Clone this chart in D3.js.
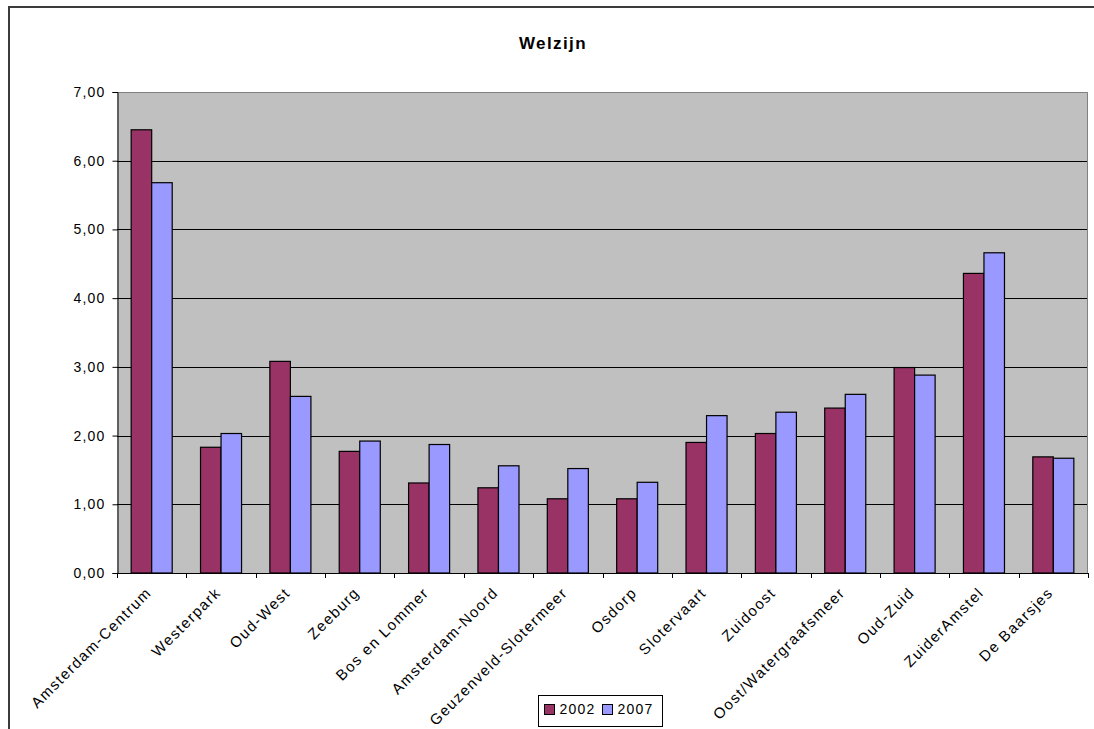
<!DOCTYPE html>
<html>
<head>
<meta charset="utf-8">
<script src="https://cdn.jsdelivr.net/npm/d3@7"></script>
<style>
  html, body { margin: 0; padding: 0; background: #fff; }
  svg { display: block; }
  text { font-family: "Liberation Sans", Arial, sans-serif; fill: #000; }
</style>
</head>
<body>
<svg id="chart" width="1094" height="729"></svg>
<script>
const title = "Welzijn";
const categories = ["Amsterdam-Centrum", "Westerpark", "Oud-West", "Zeeburg", "Bos en Lommer",
  "Amsterdam-Noord", "Geuzenveld-Slotermeer", "Osdorp", "Slotervaart", "Zuidoost",
  "Oost/Watergraafsmeer", "Oud-Zuid", "ZuiderAmstel", "De Baarsjes"];
const seriesNames = ["2002", "2007"];
const values2002 = [6.45, 1.83, 3.08, 1.77, 1.31, 1.24, 1.08, 1.08, 1.90, 2.03, 2.40, 2.99, 4.36, 1.69];
const values2007 = [5.68, 2.03, 2.57, 1.92, 1.87, 1.56, 1.52, 1.32, 2.29, 2.34, 2.60, 2.88, 4.66, 1.67];
const yTicks = [0, 1, 2, 3, 4, 5, 6, 7];
const colors = ["#993366", "#9999FF"];

const svg = d3.select("#chart");
const plot = { left: 117, right: 1088, top: 92, bottom: 573 };

// outer chart border
svg.append("path")
  .attr("d", `M9,729 L9,7 L1094,7`)
  .attr("fill", "none").attr("stroke", "#3c3c3c").attr("stroke-width", 2);

svg.append("text")
  .attr("x", 553).attr("y", 49)
  .attr("text-anchor", "middle")
  .attr("font-size", "17px").attr("font-weight", "bold")
  .attr("letter-spacing", "1.4px")
  .text(title);

const x0 = d3.scaleBand().domain(categories).range([plot.left, plot.right]).paddingInner(0).paddingOuter(0);
const x1 = d3.scaleBand().domain(seriesNames).range([0, x0.bandwidth()]).paddingInner(0).paddingOuter(0.69);
const y = d3.scaleLinear().domain([0, 7]).range([plot.bottom, plot.top]);

// plot background
svg.append("rect")
  .attr("x", plot.left).attr("y", plot.top)
  .attr("width", plot.right - plot.left).attr("height", plot.bottom - plot.top)
  .attr("fill", "#C0C0C0");
svg.append("path")
  .attr("d", `M${plot.left},${plot.top + 0.5} L${plot.right - 0.5},${plot.top + 0.5} L${plot.right - 0.5},${plot.bottom}`)
  .attr("fill", "none").attr("stroke", "#808080").attr("stroke-width", 1);

// gridlines
svg.append("g").selectAll("line").data(yTicks.filter(d => d > 0 && d < 7)).join("line")
  .attr("x1", plot.left).attr("x2", plot.right - 1)
  .attr("y1", d => Math.round(y(d)) + 0.5).attr("y2", d => Math.round(y(d)) + 0.5)
  .attr("stroke", "#000").attr("stroke-width", 1);

// bars
const data = categories.map((c, i) => ({ c, vals: [values2002[i], values2007[i]] }));
const groups = svg.append("g").selectAll("g").data(data).join("g")
  .attr("transform", d => `translate(${x0(d.c)},0)`);
groups.selectAll("rect").data(d => d.vals.map((v, j) => ({ v, s: seriesNames[j], j }))).join("rect")
  .attr("x", d => x1(d.s))
  .attr("y", d => y(d.v))
  .attr("width", x1.bandwidth())
  .attr("height", d => y(0) - y(d.v))
  .attr("fill", d => colors[d.j])
  .attr("stroke", "#000").attr("stroke-width", 1.2);

// y axis
const yAxis = d3.axisLeft(y).tickValues(yTicks).tickSize(5).tickPadding(7)
  .tickFormat(d => d3.format(".2f")(d).replace(".", ","));
const gy = svg.append("g").attr("transform", `translate(${plot.left + 0.5},0)`).call(yAxis);
gy.select(".domain").attr("stroke", "#000");
gy.selectAll(".tick line").attr("stroke", "#000");
gy.selectAll(".tick text").attr("font-size", "14px").attr("letter-spacing", "1.2px")
  .attr("font-family", "Liberation Sans, Arial, sans-serif").attr("fill", "#000");

// x axis
const xTickPositions = d3.range(categories.length + 1).map(i => plot.left + i * x0.step());
const gx = svg.append("g");
gx.append("line").attr("x1", plot.left).attr("x2", plot.right)
  .attr("y1", plot.bottom + 0.5).attr("y2", plot.bottom + 0.5).attr("stroke", "#000");
gx.selectAll("line.tk").data(xTickPositions).join("line").attr("class", "tk")
  .attr("x1", d => Math.round(d) + 0.5).attr("x2", d => Math.round(d) + 0.5)
  .attr("y1", plot.bottom).attr("y2", plot.bottom + 5).attr("stroke", "#000");
gx.selectAll("text").data(categories).join("text")
  .attr("transform", d => `translate(${x0(d) + x0.bandwidth() / 2 - 3},${plot.bottom + 17}) rotate(-45)`)
  .attr("text-anchor", "end")
  .attr("dy", "0.35em")
  .attr("font-size", "15px").attr("letter-spacing", "1.4px")
  .text(d => d);

// legend
const lg = svg.append("g").attr("transform", "translate(538.5,695.5)");
lg.append("rect").attr("width", 124).attr("height", 31).attr("fill", "#fff").attr("stroke", "#000");
const items = lg.selectAll("g").data(seriesNames).join("g")
  .attr("transform", (d, i) => `translate(${6 + i * 58},9)`);
items.append("rect").attr("width", 10).attr("height", 10)
  .attr("fill", (d, i) => colors[i]).attr("stroke", "#000");
items.append("text").attr("x", 15).attr("y", 5).attr("dy", "0.35em")
  .attr("font-size", "14px").attr("letter-spacing", "1.2px").text(d => d);
</script>
</body>
</html>
